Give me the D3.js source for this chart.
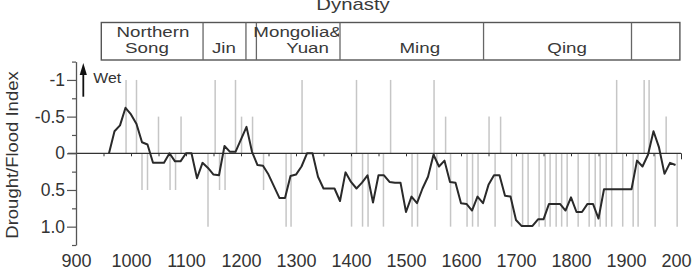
<!DOCTYPE html>
<html>
<head>
<meta charset="utf-8">
<script src="https://cdn.jsdelivr.net/npm/d3@7"></script>
<style>
  body { margin: 0; background: #fff; }
  svg { display: block; font-family: "Liberation Sans", Arial, sans-serif; }
</style>
</head>
<body>
<svg id="chart" width="692" height="276"></svg>
<script>
// decadal smoothed drought/flood index (negative = wet)
const lineYears = d3.range(960, 2000, 10);
const lineValues = [
    0, -0.30, -0.38, -0.62, -0.53, -0.40, -0.15, -0.12, 0.13, 0.13,
    0.13, 0.00, 0.11, 0.11, 0.00, 0.00, 0.34, 0.13, 0.20, 0.29,
    0.30, -0.10, -0.02, -0.02, -0.19, -0.36, -0.02, 0.16, 0.17, 0.29,
    0.45, 0.61, 0.61, 0.31, 0.29, 0.18, 0.00, 0.00, 0.32, 0.48,
    0.48, 0.48, 0.65, 0.26, 0.39, 0.48, 0.40, 0.30, 0.67, 0.30,
    0.30, 0.39, 0.40, 0.40, 0.80, 0.59, 0.68, 0.48, 0.32, 0.02,
    0.18, 0.10, 0.39, 0.40, 0.68, 0.69, 0.78, 0.59, 0.68, 0.43,
    0.30, 0.30, 0.58, 0.59, 0.91, 0.99, 0.99, 0.99, 0.90, 0.90,
    0.69, 0.69, 0.69, 0.78, 0.60, 0.80, 0.80, 0.69, 0.69, 0.89,
    0.49, 0.49, 0.49, 0.49, 0.49, 0.49, 0.10, 0.18, 0.02, -0.30,
    -0.08, 0.28, 0.13, 0.16
];

// single-year records (grey bars)
const barYears = [991, 1010, 1020, 1030, 1050, 1071, 1081, 1091, 1140, 1153,
    1161, 1171, 1190, 1201, 1221, 1241, 1282, 1291, 1311, 1401,
    1410, 1421, 1431, 1459, 1472, 1511, 1521, 1551, 1556, 1572,
    1581, 1611, 1621, 1631, 1651, 1662, 1672, 1692, 1712, 1722,
    1742, 1753, 1762, 1773, 1783, 1793, 1813, 1833, 1844, 1853,
    1864, 1874, 1883, 1894, 1913, 1922, 1933, 1942, 1953, 1973, 1993];
const barValues = [-1, -1, 0.5, 0.5, -0.5, 0.5, 0.5, -0.5, 1, -1,
    0.5, 0.5, -1, -0.5, -0.5, 0.5, 1, 1, -1, 1,
    -1, 1, 1, 1, -1, 1, 1, -1, 0.5, -0.5,
    1, 1, 1, 1, -0.5, 1, -0.5, 1, 1, 1,
    1, 1, 1, 1, 1, 1, 1, 1, 1, 1,
    1, 1, -1, 1, 1, 1, -1, -1, 1, -0.5, 1];

// dynasty strip
const dynastyBounds = [946, 1131, 1209, 1228, 1380, 1641, 1910, 1998];
const topLabels = ["Northern", "Mongolia&"];
const topLabelYears = [1040, 1303];
const bottomLabels = ["Song", "Jin", "Yuan", "Ming", "Qing"];
const bottomLabelYears = [1029, 1169, 1321, 1525, 1793];

const yTicks = [-1.25, -1, -0.75, -0.5, -0.25, 0, 0.25, 0.5, 0.75, 1, 1.25];
const yLabels = {"-1": "-1", "-0.5": "-0.5", "0": "0", "0.5": "0.5", "1": "1.0"};
const xLabels = [900, 1000, 1100, 1200, 1300, 1400, 1500, 1600, 1700, 1800, 1900, 2000];

const svg = d3.select("#chart");
const x = d3.scaleLinear().domain([900, 2000]).range([76, 681]);
const y = d3.scaleLinear().domain([-1.25, 1.25]).range([61.6, 245]);

const ink = "#333";
const axisCol = "#555";

function stretched(g, str, px, py, sx, size, anchor) {
    return g.append("text")
        .attr("transform", `translate(${px},${py}) scale(${sx},1)`)
        .attr("text-anchor", anchor || "middle")
        .style("font-size", size + "px")
        .attr("fill", ink)
        .text(str);
}

// grey bars
svg.append("g").selectAll("line")
    .data(barYears)
    .join("line")
    .attr("x1", d => x(d)).attr("x2", d => x(d))
    .attr("y1", y(0))
    .attr("y2", (d, i) => y(barValues[i]))
    .attr("stroke", "#c6c6c6")
    .attr("stroke-width", 1.5);

// zero line with small year ticks
svg.append("line")
    .attr("x1", 68).attr("x2", x(2000))
    .attr("y1", y(0)).attr("y2", y(0))
    .attr("stroke", ink).attr("stroke-width", 1.2);

const zeroAxis = svg.append("g")
    .attr("transform", `translate(0,${y(0)})`)
    .call(d3.axisBottom(x).tickValues(d3.range(950, 2001, 50)).tickSize(3).tickFormat(""));
zeroAxis.select(".domain").remove();
zeroAxis.selectAll(".tick line")
    .attr("stroke", ink)
    .attr("y2", d => d === 2000 ? 6 : 3);

// smoothed index
svg.append("path")
    .datum(lineValues)
    .attr("fill", "none")
    .attr("stroke", "#2a2a2a")
    .attr("stroke-width", 2)
    .attr("stroke-linejoin", "round")
    .attr("d", d3.line().x((d, i) => x(lineYears[i])).y(d => y(d)));

// y axis
const yAxis = svg.append("g")
    .attr("transform", `translate(${x(900)},0)`)
    .call(d3.axisLeft(y).tickValues(yTicks).tickSize(9).tickSizeOuter(0).tickPadding(2)
        .tickFormat(d => yLabels[String(d)] || ""));
yAxis.select(".domain").attr("stroke", axisCol).attr("stroke-width", 1.3);
yAxis.selectAll(".tick line")
    .attr("stroke", axisCol).attr("stroke-width", 1.2)
    .attr("x2", d => yLabels[String(d)] ? -9 : -4);
yAxis.selectAll(".tick text")
    .attr("fill", ink)
    .style("font-size", "17.5px")
    .style("font-family", "'Liberation Sans', Arial, sans-serif");

// x labels along bottom
const xAxis = svg.append("g")
    .attr("transform", "translate(0,250)")
    .call(d3.axisBottom(x).tickValues(xLabels).tickSize(0).tickPadding(4).tickFormat(d3.format("d")));
xAxis.select(".domain").remove();
xAxis.selectAll(".tick text")
    .attr("fill", ink)
    .style("font-size", "18px")
    .style("font-family", "'Liberation Sans', Arial, sans-serif");

// y title
stretched(svg.append("g").attr("transform", "translate(18,155) rotate(-90)"),
    "Drought/Flood Index", 0, 0, 1.12, 16.5, "middle");

// wet arrow
const arrowX = x(900) + 7.3;
svg.append("line")
    .attr("x1", arrowX).attr("x2", arrowX)
    .attr("y1", 72).attr("y2", 96.7)
    .attr("stroke", "#111").attr("stroke-width", 1.8);
svg.append("path")
    .attr("d", `M${arrowX},63 L${arrowX - 3.6},75 L${arrowX + 3.6},75 Z`)
    .attr("fill", "#111");
stretched(svg, "Wet", arrowX + 10, 83.3, 1.13, 14, "start");

// dynasty strip
const strip = svg.append("g");
const stripTop = 22.5, stripBottom = 60;

// the "&" gets cut by the Yuan/Ming divider in the original
svg.append("defs").append("clipPath").attr("id", "yuan-clip")
    .append("rect")
    .attr("x", x(dynastyBounds[2]))
    .attr("y", stripTop)
    .attr("width", x(dynastyBounds[4]) - x(dynastyBounds[2]) - 1)
    .attr("height", stripBottom - stripTop);

strip.append("rect")
    .attr("x", x(dynastyBounds[0]))
    .attr("y", stripTop)
    .attr("width", x(dynastyBounds[dynastyBounds.length - 1]) - x(dynastyBounds[0]))
    .attr("height", stripBottom - stripTop)
    .attr("fill", "none")
    .attr("stroke", "#555")
    .attr("stroke-width", 1.4);
strip.selectAll("line.div")
    .data(dynastyBounds.slice(1, -1))
    .join("line")
    .attr("class", "div")
    .attr("x1", d => x(d)).attr("x2", d => x(d))
    .attr("y1", stripTop).attr("y2", stripBottom)
    .attr("stroke", "#666")
    .attr("stroke-width", 1.3);
topLabels.forEach((t, i) => {
    const g = i === 1 ? strip.append("g").attr("clip-path", "url(#yuan-clip)") : strip;
    stretched(g, t, x(topLabelYears[i]), 36.5, 1.25, 15, "middle").attr("fill", "#3a3a3a");
});
bottomLabels.forEach((t, i) => stretched(strip, t, x(bottomLabelYears[i]), 53.3, 1.25, 15, "middle").attr("fill", "#3a3a3a"));

stretched(svg, "Dynasty", 353, 10, 1.27, 16, "middle").attr("fill", "#3a3a3a");
</script>
</body>
</html>
